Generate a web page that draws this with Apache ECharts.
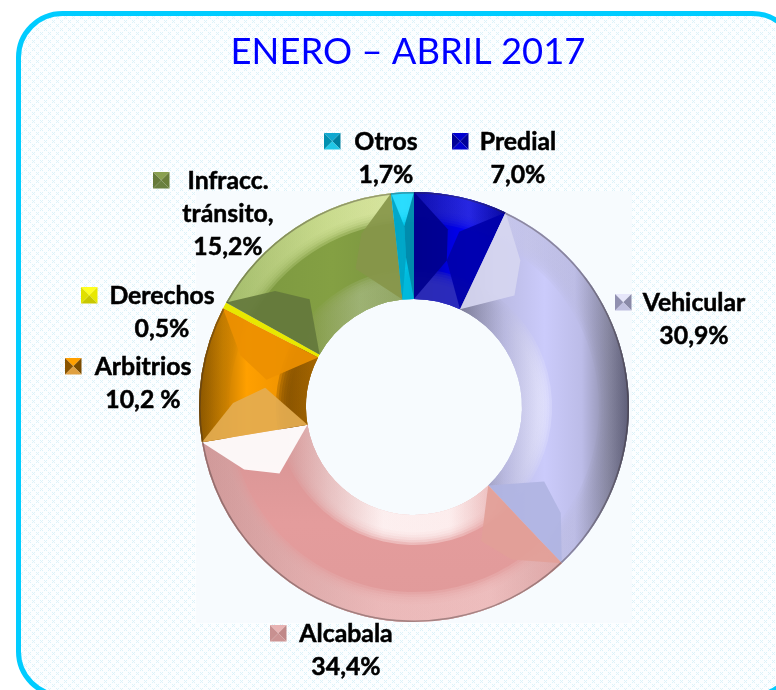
<!DOCTYPE html>
<html><head><meta charset="utf-8">
<style>html,body{margin:0;padding:0;background:#fff}#c{width:776px;height:690px}</style>
<script src="https://cdn.jsdelivr.net/npm/echarts@6/dist/echarts.min.js"></script>
</head><body><div id="c"></div>
<script>
const categories = ['Predial','Vehicular','Alcabala','Arbitrios','Derechos','Infracc. tránsito','Otros'];
const values = [7.0,30.9,34.4,10.2,0.5,15.2,1.7];
const valueLabels = ['7,0%','30,9%','34,4%','10,2 %','0,5%','15,2%','1,7%'];
const nameLines = ['Predial','Vehicular','Alcabala','Arbitrios','Derechos','Infracc.\ntránsito,','Otros'];

const CX=414, CY=407, R=215, R0=108, RIM=30, FACET_OUT=34, FACET_IN=42;
const labelPos = [[518,159],[694,320],[346,651],[143,384],[162,313],[228,214],[386,159]];
const markerPos = [[452,133],[615,294],[270,625],[65,358],[81,287],[153,172],[324,133]];

const lin=(h,...c)=>({type:'linear',x:0,y:0,x2:h?1:0,y2:h?0:1,colorStops:c.map(k=>({offset:k[0],color:k[1]}))});
const body = [
  lin(1,[0,'#00008c'],[.35,'#0000d8'],[.65,'#0000ff'],[1,'#0000c0']),
  lin(1,[0,'#85859f'],[.2,'#b8b8e0'],[.5,'#cbcbfb'],[.72,'#bcbce8'],[.9,'#85859f'],[1,'#5c5c76']),
  lin(0,[0,'#d69494'],[.5,'#e49c9c'],[1,'#e09a9a']),
  lin(1,[0,'#8a5600'],[.4,'#ffa000'],[.72,'#f09400'],[1,'#7a4c00']),
  '#e8e800',
  lin(1,[0,'#7a9640'],[.6,'#84a043'],[1,'#7a9440']),
  lin(1,[0,'#00a8d0'],[.5,'#00d0f4'],[1,'#00a8cc'])
];
const outerRim = [
  lin(1,[0,'#1010b0'],[.6,'#2a2ae0'],[1,'#0808a0']),
  lin(1,[0,'#c8c8ec'],[.6,'#bcbce4'],[.85,'#85859f'],[1,'#5c5c76']),
  lin(1,[0,'#cf9a9a'],[.5,'#ecbcbc'],[.8,'#eec0c0'],[1,'#dca8a8']),
  lin(1,[0,'#8a5600'],[.5,'#c27c00'],[1,'#e89000']),
  '#e8e800',
  lin(1,[0,'#a8c070'],[.6,'#cfe094'],[1,'#e0eca8']),
  '#30e0ff'
];
const innerRim = [
  '#3030b8',
  lin(1,[0,'#7c7c98'],[.5,'#b8b8de'],[1,'#e8e8ff']),
  lin(1,[0,'#d49898'],[.45,'#fff6f6'],[.75,'#fff4f4'],[1,'#e8b0b0']),
  lin(1,[0,'#7a4a00'],[1,'#a86800']),
  '#e8e800',
  lin(1,[0,'#80963f'],[.6,'#a0b478'],[1,'#94a868']),
  '#00b8dc'
];
const startFacet = ['#00008e','#d6d6f0','#e2a098','#e4ac50','#e8e800','#64783c','#00a4c4'];
const endFacet = ['#0000aa','#b0b4e2','#ffffff','#ed9000','#e8e800','#87964a','#0088a8'];
const markerShades = [
  ['#0000d0','#000098','#0000d0','#000098'],
  ['#e6e6fa','#8a8aa8','#c0c0e0','#9090b0'],
  ['#e8b4b4','#c08888','#cc9494','#c89090'],
  ['#ffa000','#7a4c00','#e0a040','#8a5400'],
  ['#ffff20','#e8e800','#c8c800','#e0e000'],
  ['#8aa050','#6a7e3a','#6a8040','#667a3a'],
  ['#10a8d0','#0080a0','#20c8e8','#0090b0']
];

const total = values.reduce((a,b)=>a+b,0);
const angles = [];
values.reduce((s,v)=>{angles.push([s/total*2*Math.PI,(s+v)/total*2*Math.PI]);return s+v;},0);
const P=(r,t)=>[CX+r*Math.sin(t),CY-r*Math.cos(t)];
const ring=(r,r0,a,b,fill,op)=>({type:'sector',silent:true,
  shape:{cx:CX,cy:CY,r:r,r0:r0,startAngle:a-Math.PI/2,endAngle:b-Math.PI/2,clockwise:true},style:{fill,opacity:op==null?1:op}});

function renderBevel(params){
  const i=params.dataIndex,[a,b]=angles[i],half=(b-a)/2;
  const kids=[];
  if(categories[i]==='Derechos') return {type:'group',children:[]};
  const rO=R-FACET_OUT,rI=R0+FACET_IN;
  const oa=Math.min(half,FACET_OUT/rO), ia=Math.min(half,(FACET_IN+2)/rI);
  for(let k=1;k<=6;k++){
    const w=RIM*(0.5+0.5*k/6);
    kids.push(ring(R,R-w,a,b,outerRim[i],0.34));
    kids.push(ring(R0+w,R0,a,b,innerRim[i],0.34));
  }
  kids.push({type:'polygon',silent:true,shape:{points:[P(R0,a),P(R,a),P(rO,a+oa),P(rI,a+ia)]},style:{fill:startFacet[i],opacity:.92}});
  kids.push({type:'polygon',silent:true,shape:{points:[P(R0,b),P(R,b),P(rO,b-oa),P(rI,b-ia)]},style:{fill:endFacet[i],opacity:.92}});
  kids.push(ring(R,R-1.6,a,b,'rgba(50,40,40,0.38)'));
  return {type:'group',children:kids};
}
function renderMarker(params){
  const i=params.dataIndex,[x,y]=markerPos[i],s=16.5,c=[x+s/2,y+s/2];
  const corners=[[x,y],[x+s,y],[x+s,y+s],[x,y+s]];
  return {type:'group',children:corners.map((p,k)=>({type:'polygon',silent:true,
    shape:{points:[p,corners[(k+1)%4],c]},style:{fill:markerShades[i][k]}}))};
}

const tile=document.createElement('canvas');tile.width=tile.height=8;
const g=tile.getContext('2d');g.fillStyle='#fcfeff';g.fillRect(0,0,8,8);
g.fillStyle='#dcf2f9';
[[0,0],[2,0],[0,2],[2,2],[1,1],[4,4],[6,4],[4,6],[6,6],[5,5]].forEach(p=>g.fillRect(p[0],p[1],1,1));

const chart=echarts.init(document.getElementById('c'),null,{renderer:'canvas'});
chart.setOption({
  animation:false,
  backgroundColor:'#fff',
  title:{text:'ENERO – ABRIL 2017',left:403,top:29,textAlign:'center',
    textStyle:{fontFamily:'Lato',fontSize:36.4,fontWeight:'normal',color:'#0000ff'}},
  graphic:[
    {type:'rect',z:-2,shape:{x:18.5,y:13.5,width:778,height:682,r:44},
      style:{fill:{image:tile,repeat:'repeat'},stroke:'#00ccff',lineWidth:5}},
    {type:'rect',z:-1,shape:{x:196,y:191,width:436,height:432},style:{fill:'#f7fbfe'}}
  ],
  series:[
    {type:'pie',z:2,center:[CX,CY],radius:[R0,R],startAngle:90,clockwise:true,avoidLabelOverlap:false,
      silent:true,
      data:categories.map((c,i)=>({name:c,value:values[i],itemStyle:{color:body[i]}})),
      label:{show:true,position:'outside',
        formatter:p=>nameLines[p.dataIndex]+'\n'+valueLabels[p.dataIndex],
        fontFamily:'Lato',fontWeight:'bold',fontSize:24.8,lineHeight:33,color:'#000',align:'center',
        textBorderColor:'#000',textBorderWidth:0.5},
      labelLine:{show:false},
      labelLayout:p=>({x:labelPos[p.dataIndex][0],y:labelPos[p.dataIndex][1],align:'center',verticalAlign:'middle',hideOverlap:false})
    },
    {type:'custom',z:3,coordinateSystem:'none',silent:true,data:values.map(v=>[v]),renderItem:renderBevel},
    {type:'custom',z:3,coordinateSystem:'none',silent:true,data:values.map(v=>[v]),renderItem:renderMarker}
  ]
});
</script></body></html>
